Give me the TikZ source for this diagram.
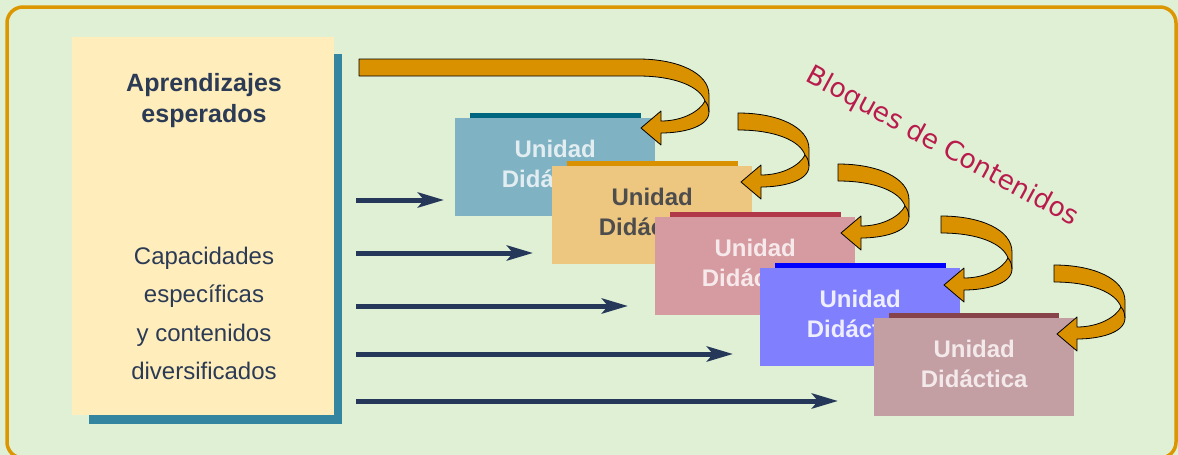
\documentclass[tikz,border=0pt]{standalone}
\usepackage{fontspec}
\setmainfont{Liberation Sans}
\newfontfamily\titlefont{DejaVu Sans}
\usetikzlibrary{arrows.meta}
\definecolor{bg}{HTML}{E0F0D4}
\definecolor{framec}{HTML}{DB9600}
\definecolor{shadowc}{HTML}{3486A0}
\definecolor{yellowc}{HTML}{FFEEBB}
\definecolor{navyt}{HTML}{2B3A55}
\definecolor{navyc}{HTML}{25385A}
\definecolor{orangearr}{HTML}{D99100}
\definecolor{crimson}{HTML}{B81B4C}
\definecolor{ca}{HTML}{7FB2C2}\definecolor{ba}{HTML}{00667F}\definecolor{ta}{HTML}{E2EDF1}
\definecolor{cb}{HTML}{EDC680}\definecolor{bb}{HTML}{D99100}\definecolor{tb}{HTML}{4D4D4D}
\definecolor{cc}{HTML}{D69BA1}\definecolor{bc}{HTML}{B03848}\definecolor{tc}{HTML}{F6E9EB}
\definecolor{cd}{HTML}{8080FF}\definecolor{bd}{HTML}{0000FF}\definecolor{td}{HTML}{EEEEFF}
\definecolor{ce}{HTML}{C39FA3}\definecolor{be}{HTML}{86434A}\definecolor{te}{HTML}{F3E9EA}
\tikzset{
  ubox/.style={anchor=north west, minimum width=200pt, minimum height=98pt, inner sep=0pt,
    align=center, text depth=7.5pt, font=\bfseries\fontsize{24}{30}\selectfont},
  navyarr/.style={draw=navyc, line width=5pt, -{Stealth[length=26pt,width=15pt,inset=6pt]}},
  carr/.style={fill=orangearr, draw=black, line width=0.8pt, line join=round},
  carrline/.style={draw=black, line width=0.8pt},
}
\newcommand{\carrow}[3]{%
  \filldraw[carr, shift={(#1,#2)}] (-#3,0) -- (0,0) .. controls (40,0) and (71,14) .. (71,36) -- (71,53)
    .. controls (71,68) and (45,74) .. (23,74) -- (23,86) -- (3,69) -- (23,52) -- (23,62)
    .. controls (45,62) and (62,52) .. (67,42) .. controls (62,28) and (38,17) .. (0,17) -- (-#3,17) -- cycle;
  \draw[carrline, shift={(#1,#2)}] (67,42) .. controls (70,46) .. (71,53);
}
\begin{document}
\begin{tikzpicture}[x=1pt,y=-1pt]
\useasboundingbox (0,0) rectangle (1178,455);
\fill[bg] (0,0) rectangle (1178,455);
\draw[framec, line width=3.5pt, rounded corners=16pt] (7,7) rectangle (1176,458);
% left box
\fill[shadowc] (89,54) rectangle (342,424);
\node[fill=yellowc, anchor=north west, minimum width=262pt, minimum height=378pt, inner sep=0pt] (ap) at (72,37) {};
\node[anchor=north, inner sep=0pt, align=center, text=navyt, font=\bfseries\fontsize{25}{31}\selectfont] (apt) at (204,73) {Aprendizajes\\esperados};
\node[anchor=north, inner sep=0pt, align=center, text=navyt, font=\fontsize{24}{38.3}\selectfont] (cap) at (204,247) {Capacidades\\específicas\\y contenidos\\diversificados};
% navy arrows
\foreach \i/\y/\e in {1/200/444, 2/253/533, 3/306/628, 4/354/733, 5/401/838}{
  \coordinate (s\i) at (356,\y);
  \coordinate (e\i) at (\e,\y);
  \draw[navyarr] (s\i) -- (e\i);
}
% unidad boxes
\node[ubox, fill=ca, text=ta] (u1) at (455,118) {Unidad\\Didáctica};
\fill[ba] (470,112.5) rectangle (641,118);
\node[ubox, fill=cb, text=tb] (u2) at (552,166) {Unidad\\Didáctica};
\fill[bb] (567,160.5) rectangle (738,166);
\node[ubox, fill=cc, text=tc] (u3) at (655,217) {Unidad\\Didáctica};
\fill[bc] (670,211.5) rectangle (841,217);
\node[ubox, fill=cd, text=td] (u4) at (760,268) {Unidad\\Didáctica};
\fill[bd] (775,262.5) rectangle (946,268);
\node[ubox, fill=ce, text=te] (u5) at (874,318) {Unidad\\Didáctica};
\fill[be] (889,312.5) rectangle (1059,318);
% curved arrows
\carrow{638}{59}{279}
\carrow{738}{113}{0}
\carrow{838}{164}{0}
\carrow{941}{216}{0}
\carrow{1054}{265}{0}
% title
\node[rotate=-28.5, text=crimson, font=\titlefont\fontsize{26.5}{30}\selectfont, inner sep=0pt] (bl) at (942,147) {Bloques de Contenidos};
\end{tikzpicture}
\end{document}
